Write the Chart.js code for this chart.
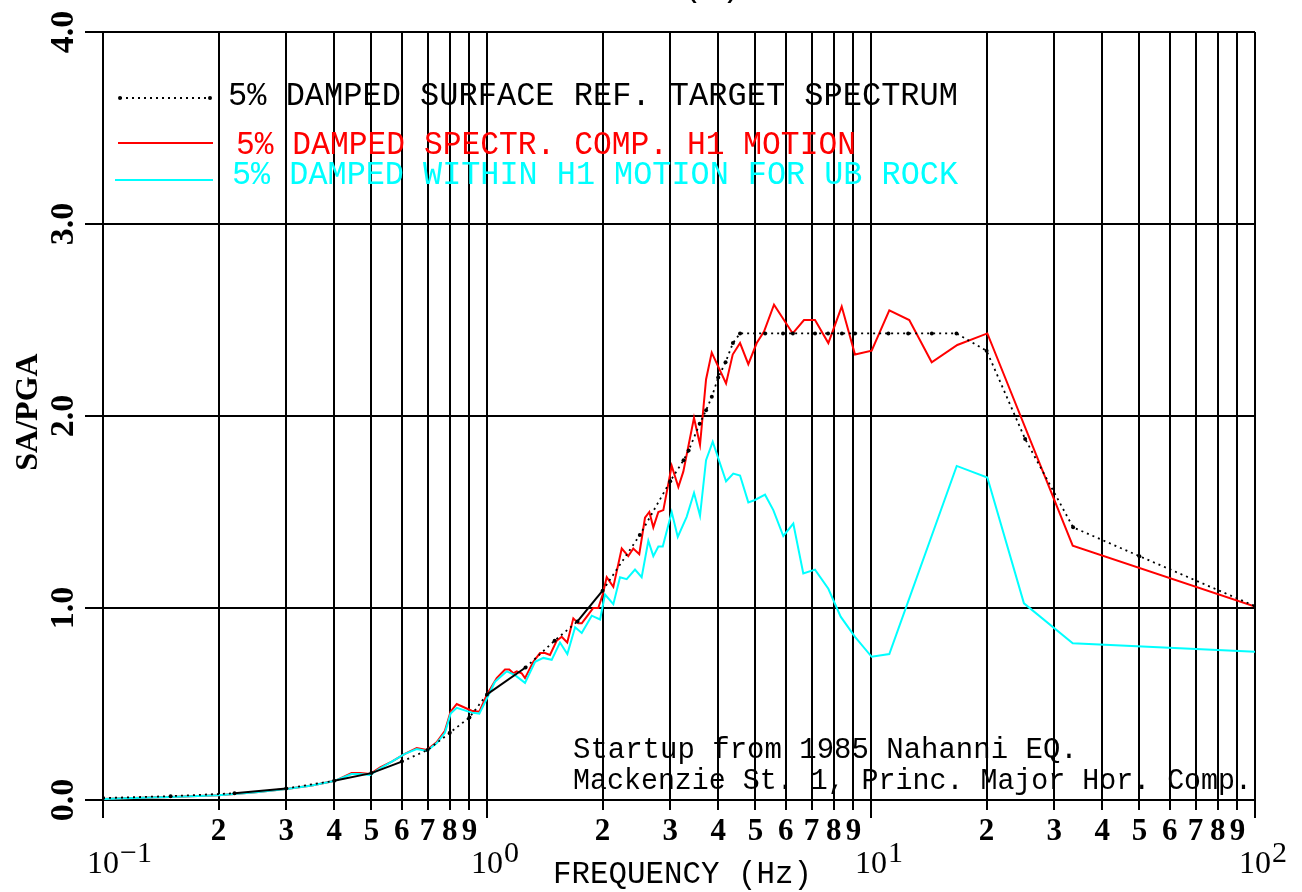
<!DOCTYPE html>
<html>
<head>
<meta charset="utf-8">
<script src="https://cdn.jsdelivr.net/npm/chart.js@4.4.0/dist/chart.umd.min.js"></script>
<style>
    html, body { margin: 0; padding: 0; background: #fff; }
    #wrap { width: 1302px; height: 892px; }
</style>
</head>
<body>
<div id="wrap"><canvas id="spectra" width="1302" height="892"></canvas></div>
<script>
    // ===========================================
    // DATA
    // ===========================================
    const targetFreq = [0.1, 0.15, 0.22, 0.3, 0.4, 0.5, 0.6, 0.7, 0.8, 0.9,
        1.0, 1.26, 1.5, 1.72, 2.0, 2.5, 3.0, 3.25, 3.35, 3.58, 3.72, 3.85, 4.0, 4.18, 4.37, 4.56,
        5.3, 5.9, 6.26, 7.15, 7.73, 8.4, 9.08, 11.1, 12.5, 14.4, 16.7,
        20, 25.2, 33.6, 50, 100];
    const targetSA = [0.01, 0.02, 0.035, 0.06, 0.1, 0.14, 0.2, 0.26, 0.35, 0.43,
        0.55, 0.69, 0.83, 0.93, 1.09, 1.38, 1.66, 1.77, 1.82, 1.96, 2.03, 2.1, 2.2, 2.28, 2.38, 2.43,
        2.43, 2.43, 2.43, 2.43, 2.43, 2.43, 2.43, 2.43, 2.43, 2.43, 2.43,
        2.34, 1.88, 1.42, 1.27, 1.01];

    const h1Freq = [0.1, 0.12, 0.15, 0.2, 0.25, 0.3, 0.35, 0.402, 0.444, 0.467,
        0.496, 0.527, 0.565, 0.611, 0.656, 0.697, 0.739, 0.777, 0.804, 0.834,
        0.912, 0.955, 1.0, 1.06, 1.114, 1.143, 1.171, 1.195, 1.231, 1.256,
        1.32, 1.374, 1.416, 1.459, 1.519, 1.565, 1.618, 1.678, 1.729, 1.765,
        1.819, 1.891, 1.949, 2.001, 2.05, 2.133, 2.243, 2.333, 2.404, 2.492,
        2.579, 2.647, 2.711, 2.794, 2.879, 3.027, 3.15, 3.245, 3.46, 3.587,
        3.719, 3.848, 4.193, 4.364, 4.56, 4.792, 5.039, 5.265, 5.59, 6.254,
        6.691, 7.148, 7.743, 8.389, 9.085, 10.04, 11.16, 12.58, 14.39, 16.78,
        20.09, 33.52, 100];
    const h1SA = [0.005, 0.01, 0.015, 0.025, 0.04, 0.057, 0.075, 0.1, 0.14, 0.14,
        0.135, 0.17, 0.2, 0.24, 0.27, 0.26, 0.3, 0.36, 0.46, 0.5,
        0.465, 0.46, 0.55, 0.635, 0.68, 0.68, 0.66, 0.67, 0.66, 0.635,
        0.72, 0.765, 0.765, 0.755, 0.83, 0.85, 0.82, 0.946, 0.92, 0.92,
        0.955, 1.0, 1.0, 1.07, 1.16, 1.11, 1.31, 1.27, 1.31, 1.28,
        1.47, 1.5, 1.42, 1.5, 1.51, 1.74, 1.63, 1.71, 1.99, 1.85,
        2.19, 2.33, 2.17, 2.32, 2.38, 2.27, 2.38, 2.44, 2.58, 2.43,
        2.5, 2.5, 2.38, 2.57, 2.32, 2.34, 2.55, 2.5, 2.28, 2.37,
        2.43, 1.325, 1.007];

    const ubFreq = [0.1, 0.12, 0.15, 0.2, 0.25, 0.3, 0.35, 0.402, 0.444, 0.467,
        0.496, 0.527, 0.565, 0.611, 0.656, 0.697, 0.739, 0.777, 0.804, 0.834,
        0.912, 0.955, 1.0, 1.049, 1.126, 1.183, 1.256, 1.334, 1.402, 1.474,
        1.549, 1.619, 1.696, 1.765, 1.874, 1.97, 2.029, 2.133, 2.22, 2.311,
        2.429, 2.528, 2.631, 2.711, 2.794, 2.869, 3.027, 3.139, 3.311, 3.46,
        3.587, 3.719, 3.871, 4.193, 4.379, 4.56, 4.792, 4.988, 5.297, 5.567,
        5.91, 6.276, 6.663, 7.148, 7.743, 8.337, 9.085, 10.04, 11.16, 16.72,
        20.09, 25.02, 33.52, 100];
    const ubSA = [0.005, 0.01, 0.015, 0.025, 0.04, 0.057, 0.075, 0.1, 0.135, 0.135,
        0.13, 0.165, 0.2, 0.24, 0.265, 0.255, 0.295, 0.35, 0.45, 0.48,
        0.455, 0.45, 0.53, 0.616, 0.67, 0.65, 0.61, 0.72, 0.74, 0.73,
        0.82, 0.76, 0.9, 0.87, 0.96, 0.94, 1.07, 1.02, 1.16, 1.15,
        1.2, 1.16, 1.35, 1.27, 1.32, 1.32, 1.5, 1.37, 1.475, 1.6,
        1.48, 1.77, 1.866, 1.66, 1.7, 1.69, 1.55, 1.5625, 1.59, 1.51,
        1.375, 1.44, 1.18, 1.2, 1.1, 0.955, 0.85, 0.746, 0.76, 1.74,
        1.68, 1.024, 0.816, 0.772];

    const xGridTicks = [0.1, 0.2, 0.3, 0.4, 0.5, 0.6, 0.7, 0.8, 0.9,
        1, 2, 3, 4, 5, 6, 7, 8, 9,
        10, 20, 30, 40, 50, 60, 70, 80, 90, 100];
    const xDecades = [0.1, 1, 10, 100];
    const xDecadeExp = ['-1', '0', '1', '2'];
    const xMinorDigits = [2, 3, 4, 5, 6, 7, 8, 9];
    const yTicks = [0, 1, 2, 3, 4];
    const yTickLabels = ['0.0', '1.0', '2.0', '3.0', '4.0'];

    const legendLabels = [
        '5% DAMPED SURFACE REF. TARGET SPECTRUM',
        '5% DAMPED SPECTR. COMP. H1 MOTION',
        '5% DAMPED WITHIN H1 MOTION FOR UB ROCK'
    ];
    const noteLines = [
        'Startup from 1985 Nahanni EQ.',
        'Mackenzie St. 1, Princ. Major Hor. Comp.'
    ];

    // ===========================================
    // STYLE
    // ===========================================
    const RED = '#ff0000';
    const CYAN = '#00ffff';
    const MONO = '"Liberation Mono", "Courier New", monospace';
    const SERIF = '"Liberation Serif", "Times New Roman", serif';
    // stretches where the plotter drew the target curve solid
    const solidBands = [[0.22, 0.3], [0.4, 0.6], [1.0, 1.26], [1.72, 2.0]];

    function toPoints(xs, ys) {
        return xs.map((x, i) => ({ x: x, y: ys[i] }));
    }

    function inSolidBand(x) {
        return solidBands.some(b => x >= b[0] - 1e-6 && x < b[1] - 1e-6);
    }

    // ===========================================
    // TEXT / DECORATION PLUGIN
    // ===========================================
    const annotate = {
        id: 'annotate',
        afterDraw(chart) {
            const ctx = chart.ctx;
            const xs = chart.scales.x;
            const ys = chart.scales.y;
            const area = chart.chartArea;
            ctx.save();
            ctx.fillStyle = '#000';
            ctx.strokeStyle = '#000';

            // longer tick marks at the decades
            ctx.lineWidth = 2;
            xDecades.forEach(v => {
                const px = Math.round(xs.getPixelForValue(v));
                ctx.beginPath();
                ctx.moveTo(px, area.bottom);
                ctx.lineTo(px, area.bottom + 18);
                ctx.stroke();
            });

            // y tick labels (rotated)
            ctx.font = 'bold 34px ' + SERIF;
            ctx.textAlign = 'center';
            ctx.textBaseline = 'alphabetic';
            yTicks.forEach((v, i) => {
                ctx.save();
                ctx.translate(73, ys.getPixelForValue(v));
                ctx.rotate(-Math.PI / 2);
                ctx.fillText(yTickLabels[i], 0, 0);
                ctx.restore();
            });

            // y title
            ctx.save();
            ctx.translate(37, 412);
            ctx.rotate(-Math.PI / 2);
            ctx.font = 'bold 32px ' + SERIF;
            ctx.fillText('SA/PGA', 0, 0);
            ctx.restore();

            // x minor digits
            ctx.font = 'bold 31px ' + SERIF;
            ctx.textAlign = 'center';
            xDecades.slice(0, 3).forEach(d => {
                xMinorDigits.forEach(m => {
                    ctx.fillText(String(m), xs.getPixelForValue(d * m), 840);
                });
            });

            // decade labels 10^n
            xDecades.forEach((d, i) => {
                const px = xs.getPixelForValue(d);
                ctx.font = '32px ' + SERIF;
                ctx.textAlign = 'center';
                ctx.fillText('10', px, 873);
                const w = ctx.measureText('10').width;
                ctx.font = '30px ' + SERIF;
                ctx.textAlign = 'left';
                ctx.fillText(xDecadeExp[i].replace('-', '\u2212'), px + w / 2 + 1, 862);
            });

            // x title
            ctx.font = '31px ' + MONO;
            ctx.textAlign = 'left';
            ctx.fillText('FREQUENCY (Hz)', 553, 883, 259);

            // partial panel label at the very top
            ctx.font = '33px ' + MONO;
            ctx.textAlign = 'center';
            ctx.fillText('(a)', 712, -4);

            // legend
            ctx.lineWidth = 1.8;
            ctx.setLineDash([2, 4]);
            ctx.beginPath();
            ctx.moveTo(120, 98);
            ctx.lineTo(210, 98);
            ctx.stroke();
            ctx.setLineDash([]);
            [120, 210].forEach(px => {
                ctx.beginPath();
                ctx.arc(px, 98, 2, 0, Math.PI * 2);
                ctx.fill();
            });
            ctx.lineWidth = 2;
            ctx.strokeStyle = RED;
            ctx.beginPath();
            ctx.moveTo(118, 143);
            ctx.lineTo(213, 143);
            ctx.stroke();
            ctx.strokeStyle = CYAN;
            ctx.beginPath();
            ctx.moveTo(115, 180);
            ctx.lineTo(213, 180);
            ctx.stroke();

            ctx.font = '33px ' + MONO;
            ctx.textAlign = 'left';
            ctx.fillStyle = '#000';
            ctx.fillText(legendLabels[0], 228, 105, 730);
            ctx.fillStyle = RED;
            ctx.fillText(legendLabels[1], 236, 154, 620);
            ctx.fillStyle = CYAN;
            ctx.fillText(legendLabels[2], 232, 184, 726);

            // note in the lower right
            ctx.fillStyle = '#000';
            ctx.font = '29px ' + MONO;
            ctx.fillText(noteLines[0], 573, 758, 515);
            ctx.fillText(noteLines[1], 573, 789, 679);

            ctx.restore();
        }
    };

    // ===========================================
    // CHART
    // ===========================================
    new Chart(document.getElementById('spectra'), {
        type: 'line',
        data: {
            datasets: [
                {
                    label: legendLabels[0],
                    data: toPoints(targetFreq, targetSA),
                    borderColor: '#000',
                    backgroundColor: '#000',
                    borderWidth: 1.8,
                    borderDash: [2, 4],
                    pointRadius: 2,
                    pointBorderWidth: 0,
                    tension: 0,
                    segment: {
                        borderDash: c => inSolidBand(c.p0.parsed.x) ? [] : [2, 4],
                        borderWidth: c => inSolidBand(c.p0.parsed.x) ? 2 : 1.8
                    }
                },
                {
                    label: legendLabels[2],
                    data: toPoints(ubFreq, ubSA),
                    borderColor: CYAN,
                    borderWidth: 2,
                    pointRadius: 0,
                    tension: 0
                },
                {
                    label: legendLabels[1],
                    data: toPoints(h1Freq, h1SA),
                    borderColor: RED,
                    borderWidth: 2,
                    pointRadius: 0,
                    tension: 0
                }
            ]
        },
        options: {
            responsive: false,
            animation: false,
            devicePixelRatio: 1,
            parsing: false,
            layout: {
                padding: { left: 85, right: 47, top: 32, bottom: 82 }
            },
            plugins: {
                legend: { display: false },
                tooltip: { enabled: false },
                title: { display: false }
            },
            scales: {
                x: {
                    type: 'logarithmic',
                    min: 0.1,
                    max: 100,
                    afterBuildTicks: scale => {
                        scale.ticks = xGridTicks.map(v => ({ value: v }));
                    },
                    ticks: { display: false },
                    grid: { color: '#000', lineWidth: 2, tickLength: 10, drawTicks: true },
                    border: { display: true, color: '#000', width: 2 }
                },
                y: {
                    type: 'linear',
                    min: 0,
                    max: 4,
                    afterBuildTicks: scale => {
                        scale.ticks = yTicks.map(v => ({ value: v }));
                    },
                    ticks: { display: false },
                    grid: { color: '#000', lineWidth: 2, tickLength: 18, drawTicks: true },
                    border: { display: true, color: '#000', width: 2 }
                }
            }
        },
        plugins: [annotate]
    });
</script>
</body>
</html>
